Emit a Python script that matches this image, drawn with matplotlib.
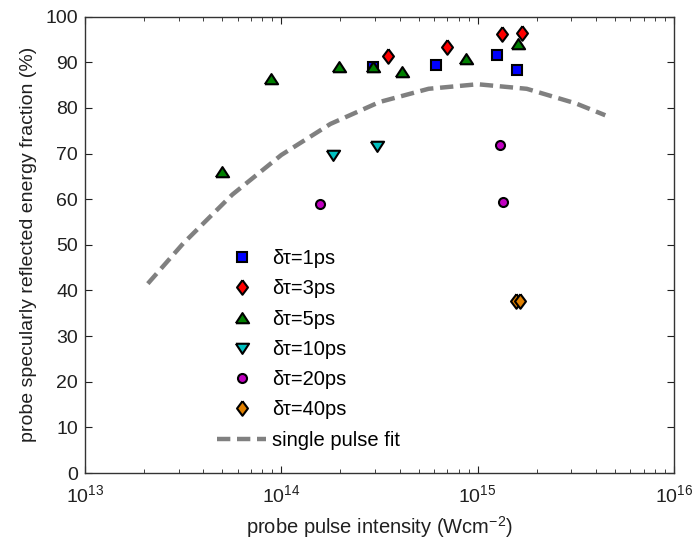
import matplotlib
matplotlib.use("Agg")
import matplotlib.pyplot as plt
import numpy as np

plt.rcParams['font.family'] = ['Liberation Sans', 'DejaVu Sans']
plt.rcParams['mathtext.default'] = 'regular'
plt.rcParams['mathtext.fontset'] = 'custom'
plt.rcParams['mathtext.rm'] = 'Liberation Sans'

# data
x_1ps = [2.94e14, 6.1e14, 1.25e15, 1.58e15]
y_1ps = [88.9, 89.4, 91.5, 88.3]
x_3ps = [3.51e14, 6.97e14, 1.33e15, 1.69e15]
y_3ps = [91.4, 93.4, 96.1, 96.5]
x_5ps = [5.0e13, 8.87e13, 1.96e14, 2.94e14, 4.1e14, 8.73e14, 1.61e15]
y_5ps = [65.9, 86.3, 88.9, 88.9, 87.8, 90.7, 94.0]
x_10ps = [1.84e14, 3.06e14]
y_10ps = [69.7, 71.7]
x_20ps = [1.57e14, 1.30e15, 1.34e15]
y_20ps = [58.9, 71.9, 59.5]
x_40ps = [1.56e15, 1.64e15]
y_40ps = [37.8, 37.8]

fit_logx = [13.32, 13.5, 13.75, 14.0, 14.25, 14.5, 14.75, 15.0, 15.25, 15.5, 15.65]
fit_y = [41.5, 50.3, 61.0, 69.7, 76.5, 81.3, 84.2, 85.2, 84.2, 81.0, 78.4]

labels = ['δτ=1ps', 'δτ=3ps', 'δτ=5ps', 'δτ=10ps', 'δτ=20ps', 'δτ=40ps', 'single pulse fit']

# MATLAB-like marker shapes
tri_up = [(-1, -0.72), (1, -0.72), (0, 0.82), (-1, -0.72)]
tri_dn = [(-1, 0.72), (1, 0.72), (0, -0.82), (-1, 0.72)]
diamond = [(0, 1), (0.75, 0), (0, -1), (-0.75, 0), (0, 1)]

fig = plt.figure(figsize=(6.94, 5.41), dpi=100)
ax = fig.add_axes([85/694, 68/541, (674-85)/694, (473-16.7)/541])

mew = 1.5
ax.plot(x_1ps, y_1ps, linestyle='none', marker='s', ms=7.5, mfc='#0000ff', mec='black', mew=mew, label=labels[0])
ax.plot(x_3ps, y_3ps, linestyle='none', marker=diamond, ms=10.5, mfc='#ff0000', mec='black', mew=mew, label=labels[1])
ax.plot(x_5ps, y_5ps, linestyle='none', marker=tri_up, ms=9.5, mfc='#008000', mec='black', mew=mew, label=labels[2])
ax.plot(x_10ps, y_10ps, linestyle='none', marker=tri_dn, ms=9.5, mfc='#00c0c0', mec='black', mew=mew, label=labels[3])
ax.plot(x_20ps, y_20ps, linestyle='none', marker='o', ms=6.5, mfc='#c000c0', mec='black', mew=mew, label=labels[4])
ax.plot(x_40ps, y_40ps, linestyle='none', marker=diamond, ms=10.5, mfc='#e08000', mec='black', mew=mew, label=labels[5])
fit_x = [10 ** v for v in fit_logx]
ax.plot(fit_x, fit_y, linestyle=(0, (3.0, 1.5)), color='#808080', lw=3.2, label=labels[6])

ax.set_xscale('log')
ax.set_xlim(1e13, 1e16)
ax.set_ylim(0, 100)
ax.set_yticks(np.arange(0, 101, 10))
ax.tick_params(which='both', direction='in', top=True, right=True, labelsize=14, colors='#202020')
ax.tick_params(which='major', length=5)
ax.tick_params(which='minor', length=3)
ax.tick_params(axis='x', which='major', pad=8)
ax.tick_params(axis='y', which='major', pad=5)
for s in ax.spines.values():
    s.set_color('#333333')
    s.set_linewidth(1.0)

ax.set_xlabel('probe pulse intensity (Wcm$^{-2}$)', fontsize=14.5, color='#202020', labelpad=6)
ax.set_ylabel('probe specularly reflected energy fraction (%)', fontsize=14, color='#202020', labelpad=6)

leg = ax.legend(loc='upper left', bbox_to_anchor=(217/694, 1 - 249/541), bbox_transform=fig.transFigure,
                frameon=False, fontsize=14.5, handlelength=2.45, handletextpad=0.3, labelspacing=0.56,
                borderpad=0, borderaxespad=0, numpoints=1)

fig.savefig('out.png', dpi=100)
